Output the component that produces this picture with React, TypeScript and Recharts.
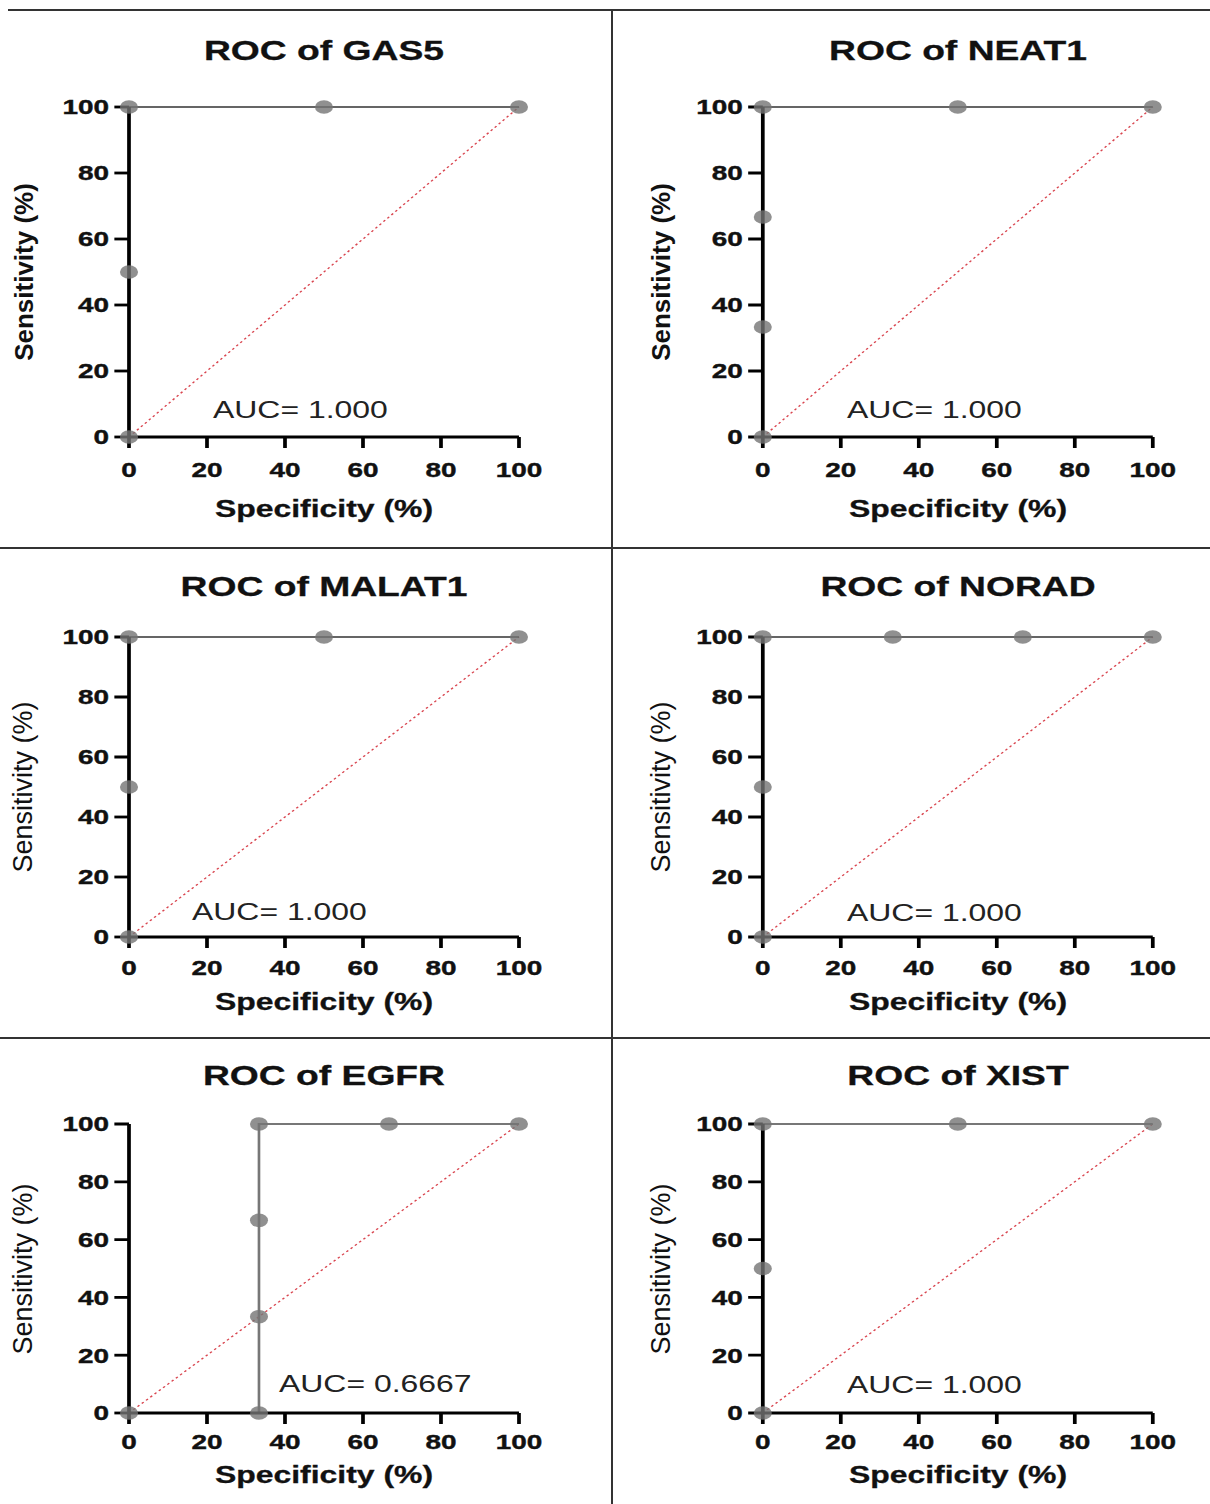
import React from 'react';
import { ComposedChart, Line, XAxis, YAxis } from 'recharts';

// the original figure is stretched sideways, so draw narrow and scale on x
const S = 1.33;
const FONT = '"Liberation Sans", Arial, sans-serif';

const axisTicks = [0, 20, 40, 60, 80, 100];

const gas5Spec = [0, 0, 0, 50, 100];
const gas5Sens = [0, 50, 100, 100, 100];
const neat1Spec = [0, 0, 0, 0, 50, 100];
const neat1Sens = [0, 33.33, 66.67, 100, 100, 100];
const malat1Spec = [0, 0, 0, 50, 100];
const malat1Sens = [0, 50, 100, 100, 100];
const noradSpec = [0, 0, 0, 33.33, 66.67, 100];
const noradSens = [0, 50, 100, 100, 100, 100];
const egfrSpec = [0, 33.33, 33.33, 33.33, 33.33, 66.67, 100];
const egfrSens = [0, 0, 33.33, 66.67, 100, 100, 100];
const xistSpec = [0, 0, 0, 50, 100];
const xistSens = [0, 50, 100, 100, 100];

const chanceSpec = [0, 100];
const chanceSens = [0, 100];

const genes = ['GAS5', 'NEAT1', 'MALAT1', 'NORAD', 'EGFR', 'XIST'];
const aucValues = ['1.000', '1.000', '1.000', '1.000', '0.6667', '1.000'];
const specs = [gas5Spec, neat1Spec, malat1Spec, noradSpec, egfrSpec, xistSpec];
const sens = [gas5Sens, neat1Sens, malat1Sens, noradSens, egfrSens, xistSens];

const toPoints = (xs: number[], ys: number[]) => xs.map((x, i) => ({ x, y: ys[i] }));

// layout in page pixels
const cols = [
  { left: 0, right: 606, plotL: 129, plotR: 519, yLabelX: 24 },
  { left: 612, right: 1210, plotL: 763, plotR: 1153, yLabelX: 661 },
];
const rows = [
  { top: 11, bottom: 548, plotT: 107, plotB: 437, titleY: 51, tickGap: 14, xLabelY: 509 },
  { top: 549, bottom: 1038, plotT: 637, plotB: 937, titleY: 587, tickGap: 12, xLabelY: 1002 },
  { top: 1039, bottom: 1504, plotT: 1124, plotB: 1413, titleY: 1076, tickGap: 10, xLabelY: 1475 },
];
const aucPos = [
  { x: 213, y: 410 },
  { x: 847, y: 410 },
  { x: 192, y: 912 },
  { x: 847, y: 913 },
  { x: 279, y: 1384 },
  { x: 847, y: 1385 },
];

const Txt = ({ x, y, size, weight = 700, center = true, children }: any) => (
  <div
    style={{
      position: 'absolute',
      left: x / S,
      top: y - 0.49 * size,
      fontFamily: FONT,
      fontSize: size,
      fontWeight: weight,
      lineHeight: 1,
      whiteSpace: 'nowrap',
      color: weight === 700 ? '#111' : '#222',
      WebkitTextStroke: weight === 700 ? '0.3px #111' : undefined,
      transform: center ? 'translateX(-50%)' : undefined,
    }}
  >
    {children}
  </div>
);

const Panel = ({ idx }: { idx: number }) => {
  const c = cols[idx % 2];
  const r = rows[Math.floor(idx / 2)];
  const w = (c.right - c.left) / S;
  const h = r.bottom - r.top;
  const plotMid = (c.plotL + c.plotR) / 2;
  const late = idx >= 4;
  const tickStyle = {
    fill: '#111',
    stroke: '#111',
    strokeWidth: 0.4,
    fontSize: 21,
    fontWeight: 700,
    fontFamily: FONT,
  };
  const axisStyle = { stroke: '#000', strokeWidth: 2.8 };

  return (
    <>
      <div style={{ position: 'absolute', left: c.left / S, top: r.top }}>
        <ComposedChart
          width={w}
          height={h}
          margin={{ top: r.plotT - r.top, right: (c.right - c.plotR) / S, bottom: 0, left: 0 }}
        >
          <XAxis
            type="number"
            dataKey="x"
            domain={[0, 100]}
            ticks={axisTicks}
            interval={0}
            height={r.bottom - r.plotB}
            tickSize={11}
            tickMargin={r.tickGap}
            tick={tickStyle}
            axisLine={axisStyle}
            tickLine={axisStyle}
          />
          <YAxis
            type="number"
            dataKey="y"
            domain={[0, 100]}
            ticks={axisTicks}
            interval={0}
            width={(c.plotL - c.left) / S}
            tickSize={11}
            tickMargin={4}
            tick={tickStyle}
            axisLine={axisStyle}
            tickLine={axisStyle}
          />
          <Line
            data={toPoints(chanceSpec, chanceSens)}
            dataKey="y"
            stroke="#d9454f"
            strokeWidth={1.2}
            strokeDasharray="2 2.5"
            dot={false}
            isAnimationActive={false}
          />
          <Line
            data={toPoints(specs[idx], sens[idx])}
            dataKey="y"
            stroke={late ? '#777' : '#333'}
            strokeWidth={late ? 2 : 1.4}
            dot={{ r: 6.8, fill: '#747474', fillOpacity: 0.8, stroke: 'none' }}
            activeDot={false}
            isAnimationActive={false}
          />
        </ComposedChart>
      </div>
      <Txt x={plotMid} y={r.titleY} size={28}>ROC of {genes[idx]}</Txt>
      <Txt x={plotMid} y={r.xLabelY} size={24}>Specificity (%)</Txt>
      <Txt x={aucPos[idx].x} y={aucPos[idx].y} size={24} weight={400} center={false}>
        AUC= {aucValues[idx]}
      </Txt>
      <div
        style={{
          position: 'absolute',
          left: c.yLabelX / S,
          top: (r.plotT + r.plotB) / 2,
          width: 0,
          height: 0,
        }}
      >
        <div
          style={{
            position: 'absolute',
            left: 0,
            top: 0,
            fontFamily: FONT,
            fontSize: idx < 2 ? 26 : 27,
            fontWeight: idx < 2 ? 700 : 400,
            lineHeight: 1,
            whiteSpace: 'nowrap',
            color: '#111',
            transform: `translate(-50%, -50%) scaleX(${1 / S}) rotate(-90deg)`,
          }}
        >
          Sensitivity (%)
        </div>
      </div>
    </>
  );
};

const sepColor = '#333';

export default function App() {
  return (
    <div style={{ position: 'absolute', left: 0, top: 0, width: 1210, height: 1504, background: '#fff', overflow: 'hidden' }}>
      <div
        style={{
          position: 'absolute',
          left: 0,
          top: 0,
          width: 1210 / S,
          height: 1504,
          transform: `scaleX(${S})`,
          transformOrigin: '0 0',
        }}
      >
        {genes.map((g, i) => (
          <Panel key={g} idx={i} />
        ))}
      </div>
      <div style={{ position: 'absolute', left: 8, top: 9, width: 1202, height: 2, background: sepColor }} />
      <div style={{ position: 'absolute', left: 611, top: 10, width: 2, height: 1494, background: sepColor }} />
      <div style={{ position: 'absolute', left: 0, top: 547, width: 1210, height: 2, background: sepColor }} />
      <div style={{ position: 'absolute', left: 0, top: 1037, width: 1210, height: 2, background: sepColor }} />
    </div>
  );
}
